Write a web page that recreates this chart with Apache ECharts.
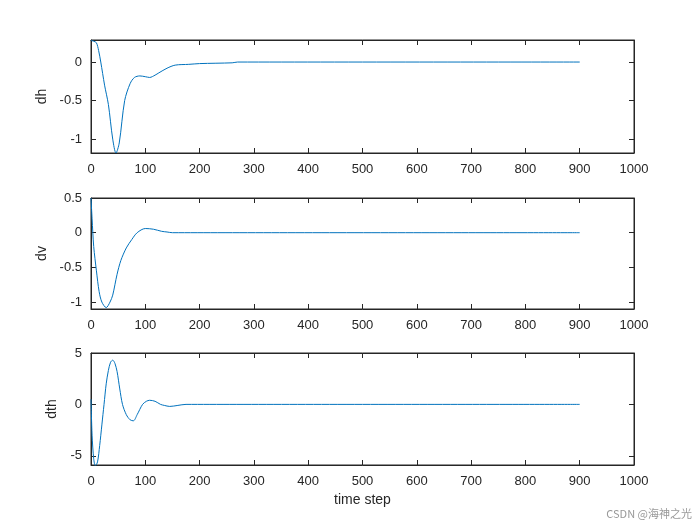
<!DOCTYPE html>
<html><head><meta charset="utf-8">
<script src="https://cdn.jsdelivr.net/npm/echarts@6/dist/echarts.min.js"></script>
<style>body{margin:0;background:#fff}#c{width:700px;height:525px}</style>
</head><body><div id="c"></div>
<script>
// time step values and the three traces
const dhX = [0, 5, 10, 14, 18, 25, 32, 40, 46, 52, 62, 72, 80, 90, 100, 108, 118, 125, 140, 155, 180, 200, 260, 270, 900]
const dhY = [0.28, 0.27, 0.25, 0.15, 0, -0.3, -0.55, -1.0, -1.18, -1.05, -0.5, -0.28, -0.2, -0.18, -0.19, -0.2, -0.17, -0.14, -0.08, -0.04, -0.03, -0.02, -0.01, 0, 0]
const dvX = [0, 2, 5, 10, 15, 20, 28, 35, 40, 48, 55, 65, 75, 85, 100, 115, 130, 140, 150, 900]
const dvY = [0.5, 0.2, -0.2, -0.55, -0.85, -1.0, -1.08, -1.0, -0.9, -0.6, -0.4, -0.22, -0.1, 0, 0.06, 0.05, 0.02, 0.01, 0, 0]
const dthX = [0, 2, 5, 8, 12, 16, 20, 24, 28, 32, 36, 40, 44, 48, 53, 58, 65, 72, 78, 85, 95, 102, 108, 118, 128, 135, 145, 160, 175, 900]
const dthY = [0.5, -3, -5.3, -6, -5.6, -4, -2, 0, 2, 3.3, 4.1, 4.3, 4, 3.2, 1.5, 0, -1, -1.5, -1.6, -1, 0, 0.3, 0.4, 0.3, 0, -0.1, -0.2, -0.1, 0, 0]
const xTicks = [0, 100, 200, 300, 400, 500, 600, 700, 800, 900, 1000]
const panels = [
  { name: 'dh', x: dhX, y: dhY, min: -1.18, max: 0.286, ticks: [-1, -0.5, 0] },
  { name: 'dv', x: dvX, y: dvY, min: -1.1, max: 0.5, ticks: [-1, -0.5, 0, 0.5] },
  { name: 'dth', x: dthX, y: dthY, min: -5.9, max: 5, ticks: [-5, 0, 5] }
]
const tops = [40, 198, 353]
const heights = [113, 111, 112]

const font = { fontFamily: 'Liberation Sans', fontSize: 13, color: '#262626', formatter: v => String(v) }
const lineStyle = { color: '#262626', width: 1 }

const grid = [], xAxis = [], yAxis = [], series = []
panels.forEach((p, i) => {
  grid.push({ left: 91, right: 66, top: tops[i], height: heights[i], show: true, borderColor: '#262626', borderWidth: 1 })
  const xBase = {
    type: 'value', gridIndex: i, min: 0, max: 1000, splitLine: { show: false },
    axisLine: { show: true, onZero: false, lineStyle }
  }
  xAxis.push(Object.assign({}, xBase, {
    position: 'bottom',
    axisTick: { inside: true, length: 5, lineStyle, customValues: xTicks },
    axisLabel: Object.assign({ customValues: xTicks, margin: 10 }, font),
    name: i === 2 ? 'time step' : '', nameLocation: 'middle', nameGap: 28,
    nameTextStyle: { fontFamily: 'Liberation Sans', fontSize: 14, color: '#262626' }
  }))
  xAxis.push(Object.assign({}, xBase, {
    position: 'top',
    axisTick: { inside: true, length: 5, lineStyle, customValues: xTicks },
    axisLabel: { show: false }
  }))
  const yBase = {
    type: 'value', gridIndex: i, min: p.min, max: p.max, splitLine: { show: false },
    axisLine: { show: true, onZero: false, lineStyle }
  }
  yAxis.push(Object.assign({}, yBase, {
    position: 'left',
    axisTick: { inside: true, length: 5, lineStyle, customValues: p.ticks },
    axisLabel: Object.assign({ customValues: p.ticks, margin: 9 }, font),
    name: p.name, nameLocation: 'middle', nameGap: 32, nameRotate: 90,
    nameTextStyle: { fontFamily: 'Liberation Sans', fontSize: 14, color: '#262626' }
  }))
  yAxis.push(Object.assign({}, yBase, {
    position: 'right',
    axisTick: { inside: true, length: 5, lineStyle, customValues: p.ticks },
    axisLabel: { show: false }
  }))
  series.push({
    type: 'line', xAxisIndex: i * 2, yAxisIndex: i * 2, smooth: 0.3,
    data: p.x.map((v, k) => [v, p.y[k]]), showSymbol: false,
    lineStyle: { color: '#0072BD', width: 1 }
  })
})

const chart = echarts.init(document.getElementById('c'))
chart.setOption({
  animation: false,
  grid, xAxis, yAxis, series,
  graphic: [{
    type: 'text', right: 8, bottom: 6,
    style: { text: 'CSDN @海神之光', font: '11px "Noto Sans CJK SC"', fill: '#999' }
  }]
})
</script></body></html>
